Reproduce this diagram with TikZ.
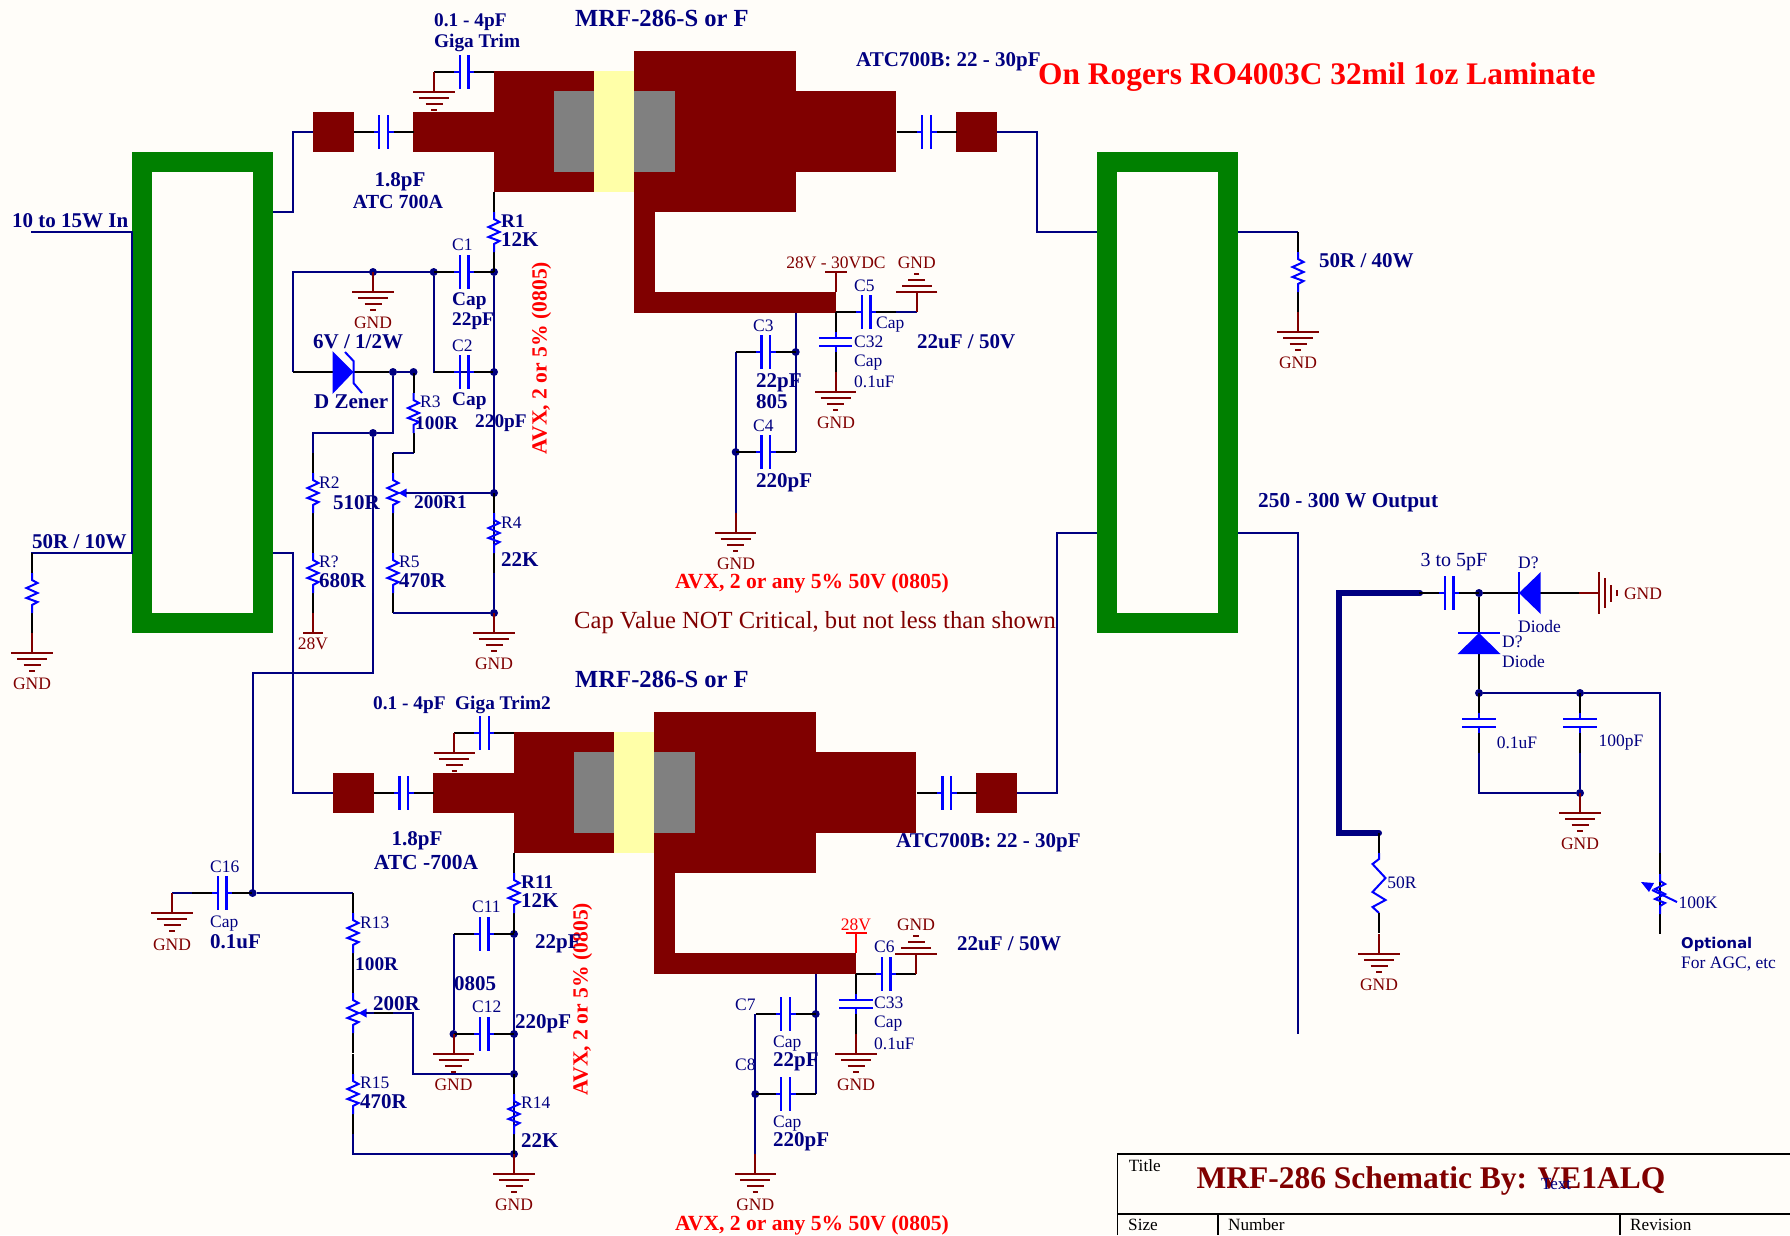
\documentclass[tikz,border=0pt]{standalone}
\usepackage{fontspec}
\setmainfont{Liberation Serif}
\newfontfamily\optfont{DejaVu Sans}
\definecolor{navyw}{RGB}{0,0,128}
\definecolor{compb}{RGB}{0,0,255}
\definecolor{dred}{RGB}{128,0,0}
\definecolor{pgreen}{RGB}{0,128,0}
\definecolor{pgray}{RGB}{128,128,128}
\definecolor{pyell}{RGB}{255,255,168}
\definecolor{bgc}{RGB}{255,253,249}
\definecolor{tred}{RGB}{255,0,0}
\newcount\lbln
\newcommand\fsz[1]{\fontsize{#1}{#1}\selectfont}
\tikzset{
  wire/.style={draw=navyw,line width=2pt,line join=miter},
  lead/.style={draw=black,line width=2pt},
  comp/.style={draw=compb,line width=2pt,line join=miter},
  plate/.style={draw=compb,line width=2.4pt},
  gline/.style={draw=dred,line width=2pt},
  junct/.style={circle,fill=navyw,inner sep=0pt,minimum size=8pt,outer sep=0pt},
  block/.style={rectangle,inner sep=0pt,outer sep=0pt,draw=none},
  sbox/.style={rectangle,draw=pgreen,line width=20pt,inner sep=0pt,outer sep=0pt,minimum width=121pt,minimum height=461pt},
  bl/.style={font=\bfseries\fsz{21},text=navyw,inner sep=0pt,anchor=west,yshift=-1.5pt},
  bs/.style={font=\bfseries\fsz{19.3},text=navyw,inner sep=0pt,anchor=west,yshift=-1.5pt},
  nl/.style={font=\fsz{17.5},text=navyw,inner sep=0pt,anchor=west,yshift=-0.4pt},
  gd/.style={font=\fsz{17.5},text=dred,inner sep=0pt,anchor=center,yshift=-0.4pt},
  rb/.style={font=\bfseries\fsz{21.6},text=tred,inner sep=0pt,anchor=center,yshift=-2pt},
  tt/.style={font=\fsz{17.2},text=black,inner sep=0pt,anchor=west,yshift=-0.4pt},
}
% text node, auto-named
\newcommand\T[4]{\global\advance\lbln by 1 \node[#3] (t\the\lbln) at (#1,#2) {#4};}
% block from corners
\newcommand\blk[6]{%
  \pgfmathsetmacro\bw{#4-#2}\pgfmathsetmacro\bh{#5-#3}%
  \pgfmathsetmacro\bx{(#4+#2)/2}\pgfmathsetmacro\by{(#5+#3)/2}%
  \node[block,fill=#6,minimum width=\bw pt,minimum height=\bh pt] (#1) at (\bx,\by) {};}
\newcommand\J[3]{\node[junct] (#1) at (#2,#3) {};}
% horizontal capacitor
\newcommand\capH[2]{\begin{scope}[shift={(#1,#2)}]
  \draw[lead] (-30,0)--(-4.3,0); \draw[lead] (4.3,0)--(30,0);
  \draw[comp] (-10,0)--(-4.3,0); \draw[comp] (4.3,0)--(10,0);
  \draw[plate] (-4.3,-16.7)--(-4.3,16.7); \draw[plate] (4.3,-16.7)--(4.3,16.7);
\end{scope}}
% vertical capacitor
\newcommand\capV[2]{\begin{scope}[shift={(#1,#2)}]
  \draw[lead] (0,-30)--(0,-4); \draw[lead] (0,4)--(0,30);
  \draw[comp] (0,-10)--(0,-4); \draw[comp] (0,4)--(0,10);
  \draw[plate] (-16.7,-4)--(16.7,-4); \draw[plate] (-16.7,4)--(16.7,4);
\end{scope}}
\newcommand\zig{(0,-20)--(0,-13)--(5.5,-10)--(-5.5,-5)--(5.5,0)--(-5.5,5)--(5.5,9)--(0,12)--(0,20)}
\newcommand\Res[2]{\begin{scope}[shift={(#1,#2)}]
  \draw[lead] (0,-40)--(0,-20); \draw[lead] (0,20)--(0,40);
  \draw[comp] \zig;
\end{scope}}
\newcommand\Pot[2]{\begin{scope}[shift={(#1,#2)}]
  \draw[lead] (0,-40)--(0,-20); \draw[lead] (0,20)--(0,40);
  \draw[comp] \zig;
  \fill[compb] (5.5,0)--(13.5,-4.5)--(13.5,4.5)--cycle;
\end{scope}}
% ground: stub of 20 then four bars
\newcommand\Gnd[3]{\begin{scope}[shift={(#1,#2)},rotate=#3]
  \draw[gline] (0,-20)--(0,0);
  \draw[gline] (-20.7,0)--(20.7,0);
  \draw[gline] (-15,6)--(15,6);
  \draw[gline] (-8.5,12)--(8.5,12);
  \draw[gline] (-2.7,18)--(2.7,18);
\end{scope}}
% transistor stage
\newcommand\Stage[3]{\begin{scope}[shift={(#2,#3)}]
  \blk{#1pad}{312.5}{112}{353.5}{152}{dred}
  \blk{#1gate}{413}{112}{494}{152}{dred}
  \blk{#1body}{494}{71}{594}{192}{dred}
  \blk{#1big}{634}{51}{796}{212}{dred}
  \blk{#1drain}{796}{91}{896}{172}{dred}
  \blk{#1pado}{956}{112}{997}{152}{dred}
  \blk{#1sa}{634}{212}{655}{292}{dred}
  \blk{#1sb}{634}{292}{836}{313}{dred}
  \blk{#1yel}{594}{71}{634}{192}{pyell}
  \blk{#1gl}{554}{91}{594}{172}{pgray}
  \blk{#1gr}{634}{91}{675}{172}{pgray}
  \capH{383.5}{132}
  \capH{926.5}{132}
  \capH{464}{72}
  \Gnd{434}{92}{0}
\end{scope}}
\begin{document}
\begin{tikzpicture}[x=1pt,y=-1pt]
\path[use as bounding box] (0,0) rectangle (1790,1235);
\fill[bgc] (0,0) rectangle (1790,1235);

% splitter boxes
\node[sbox] (lbox) at (202.4,392.5) {};
\node[sbox] (rbox) at (1167.5,392.5) {};

% stages
\Stage{a}{0}{0}
\Stage{b}{20.4}{661}

% named points
\coordinate (inA) at (31,232);
\coordinate (lboxA) at (132,232);
\coordinate (lboxB) at (132,553);
\coordinate (termW) at (32,553);
\coordinate (lboxC) at (273,212);
\coordinate (lboxD) at (273,553);
\coordinate (up1) at (292.6,132);
\coordinate (up2) at (292.6,793);
\coordinate (rboxA) at (1097,232);
\coordinate (rboxB) at (1097,533);
\coordinate (rboxC) at (1238,232);
\coordinate (rboxD) at (1238,533);
\coordinate (t40) at (1298,232);
\coordinate (tout) at (1298,533);
\coordinate (toutE) at (1298,1034);

\draw[wire] (inA)--(lboxA)--(lboxB)--(termW)--(32,573);
\Res{32}{593}
\Gnd{32}{653}{0}
\draw[wire] (lboxC)-|(up1)--(apad.west);
\draw[wire] (lboxD)-|(up2)--(bpad.west);
\draw[wire] (apado.east)-|(1037,232)--(rboxA);
\draw[wire] (bpado.east)-|(1057.4,533)--(rboxB);
\draw[wire] (rboxC)--(t40);
\Res{1298}{272}
\Gnd{1298}{332}{0}
\draw[wire] (rboxD)--(tout)--(toutE);

% upper bias network
\J{n1}{494}{272}\J{n2}{494}{372}\J{n3}{494}{493}\J{n4}{494}{613}
\J{n5}{373}{272}\J{n6}{433.7}{272}\J{n7}{393}{372}\J{n8}{413.5}{372}\J{n9}{373}{433}
\coordinate (zl) at (293,272);
\coordinate (zk) at (293,372);
\draw[wire] (n6)--(zl)--(zk);
\draw[lead] (zk)--(n7);
\draw[wire] (n7)--(n8);
\draw[wire] (n6)|-(n2);
\capH{464}{272}
\capH{464}{372}
\draw[wire] (n1)--(n4);
\Res{494}{232}
\Res{494}{533}
\Gnd{373}{292}{0}
% zener
\fill[compb] (332.5,351)--(353.5,372)--(332.5,394)--cycle;
\draw[comp] (345,352)--(353.5,361)--(353.5,383)--(362,393);
% R3, pot, R5
\draw[wire] (393,453)--(413.5,453);
\Res{413.5}{413}
\Pot{393}{493}
\Res{393}{573}
\draw[wire] (n3)--(406,493);
\draw[wire] (393,613)--(n4);
\Gnd{494}{633}{0}
% R2 chain
\draw[wire] (n7)|-(n9);
\draw[wire] (n9)-|(313,453);
\Res{313}{493}
\Res{313}{573}
\draw[gline] (313,613)--(313,633); \draw[gline] (303,633)--(323,633);
\draw[wire] (n9)|-(252.6,673)--(252.6,893);

% upper supply
\draw[gline] (835.7,292)--(835.7,272); \draw[gline] (825,272)--(846.5,272);
\capH{866}{312}
\draw[wire] (896,312)--(916.7,312);
\Gnd{916.7}{292}{180}
\capV{835.7}{342}
\Gnd{835.7}{392}{0}
\J{n10}{795.7}{352}\J{n11}{735.7}{452}
\coordinate (c3l) at (735.7,352);
\coordinate (c4r) at (795.7,452);
\draw[wire] (795.7,313)--(c4r);
\draw[wire] (c3l)--(735.7,513);
\capH{765.7}{352}
\capH{765.7}{452}
\Gnd{735.7}{533}{0}

% lower bias
\J{m1}{514}{934}\J{m2}{514}{1034}\J{m3}{514}{1074}\J{m4}{514}{1154}
\J{m5}{453.5}{1034}\J{m6}{252.6}{893}
\coordinate (m7) at (453.5,934);
\coordinate (m8) at (353,893);
\coordinate (m9) at (353,1154);
\coordinate (m10) at (413,1013);
\draw[wire] (m1)--(m4);
\draw[wire] (m7)--(m5);
\capH{484}{934}
\capH{484}{1034}
\Res{514}{893}
\Res{514}{1114}
\Gnd{453.5}{1054}{0}
\Gnd{514}{1174}{0}
\capH{222}{893}
\draw[wire] (172,893)--(192,893);
\Gnd{172}{913}{0}
\draw[wire] (m6)--(m8);
\draw[wire] (353,1134)--(m9)--(m4);
\Res{353}{933}
\Pot{353}{1013}
\Res{353}{1094}
\draw[wire] (366,1013)--(m10)--(413,1074)--(m3);
\draw[lead] (374,1013)--(393,1013);

% lower supply
\draw[draw=tred,line width=2pt] (856,953)--(856,933); \draw[draw=tred,line width=2pt] (845.5,933)--(867,933);
\capH{886}{974}
\Gnd{916}{954}{180}
\capV{856}{1004}
\Gnd{856}{1054}{0}
\J{m11}{815.7}{1014}\J{m12}{755.3}{1094}
\coordinate (c7l) at (755.3,1014);
\coordinate (c8r) at (815.7,1094);
\draw[wire] (815.7,974)--(c8r);
\draw[wire] (c7l)--(755.3,1154);
\capH{785.5}{1014}
\capH{785.5}{1094}
\Gnd{755.3}{1174}{0}

% detector circuit
\J{d1}{1479}{593}\J{d2}{1479}{693}\J{d3}{1580}{693}\J{d4}{1580}{793}
\coordinate (th1) at (1420,593);
\coordinate (th2) at (1338.5,593);
\coordinate (th3) at (1338.5,833);
\coordinate (th4) at (1379,833);
\draw[draw=navyw,line width=6pt,line join=miter] (th1)--(th2)--(th3)--(th4);
\fill[navyw] (th1) circle (3pt) (th4) circle (3pt);
\capH{1449}{593}
\draw[lead] (d1)--(1579,593);
\fill[compb] (1519,593)--(1540.7,572)--(1540.7,614)--cycle;
\draw[comp] (1519,572)--(1519,614);
\Gnd{1599.3}{593}{90}
\draw[lead] (d1)--(d2);
\fill[compb] (1479,633)--(1457.5,654)--(1500.5,654)--cycle;
\draw[comp] (1458,633)--(1500,633);
\draw[wire] (d2)--(d3)-|(1660,853);
\draw[wire] (1479,753)|-(d4);
\capV{1479}{723}
\capV{1580}{723}
\draw[wire] (1580,753)--(d4);
\Gnd{1580}{813}{0}
\draw[lead] (1379,833)--(1379,853);
\begin{scope}[shift={(1379,883)}]
\draw[comp] (0,-30)--(0,-24)--(-6.5,-19)--(6.5,-5)--(-6.5,9)--(6.5,17)--(-6.5,24)--(0,30);
\draw[lead] (0,30)--(0,50);
\end{scope}
\Gnd{1379}{954}{0}
\draw[lead] (1660,853)--(1660,934);
\begin{scope}[shift={(1660,894)}]
\draw[comp] (0,-20)--(0,-13)--(5,-10)--(-5,-5)--(5,0)--(-5,5)--(5,9)--(0,12)--(0,20);
\draw[comp] (-8,-4)--(17,8);
\fill[compb] (-19,-12)--(-6,-11)--(-11,-2)--cycle;
\end{scope}

% title block
\coordinate (tb1) at (1117.6,1235);
\coordinate (tb2) at (1117.6,1154);
\coordinate (tb3) at (1790,1154);
\coordinate (tb4) at (1117.6,1214);
\coordinate (tb5) at (1790,1214);
\draw[black,line width=1.2pt] (tb1)--(tb2)--(tb3);
\draw[black,line width=1.2pt] (tb4)--(tb5);
\draw[black,line width=1.2pt] (1218,1214)--(1218,1235);
\draw[black,line width=1.2pt] (1620,1214)--(1620,1235);

% ---------- texts ----------
\T{662}{18}{font=\bfseries\fsz{24.6},text=navyw,inner sep=0pt}{MRF-286-S or F}
\T{662}{679}{font=\bfseries\fsz{24.6},text=navyw,inner sep=0pt}{MRF-286-S or F}
\T{434}{21}{bs}{0.1 - 4pF}
\T{434}{41}{bs}{Giga Trim}
\T{373}{703}{bs}{0.1 - 4pF~~Giga Trim2}
\T{856}{60}{bl}{ATC700B: 22 - 30pF}
\T{896}{841}{bl}{ATC700B: 22 - 30pF}
\T{1038}{77.5}{font=\bfseries\fsz{31.4},text=tred,inner sep=0pt,anchor=west}{On Rogers RO4003C 32mil 1oz Laminate}
\T{400}{181.5}{font=\bfseries\fsz{21},text=navyw,inner sep=0pt}{1.8pF}
\T{398}{202}{font=\bfseries\fsz{20},text=navyw,inner sep=0pt}{ATC 700A}
\T{417}{840.5}{font=\bfseries\fsz{21},text=navyw,inner sep=0pt}{1.8pF}
\T{426}{862}{font=\bfseries\fsz{21.5},text=navyw,inner sep=0pt}{ATC -700A}
\T{12}{219}{bl}{10 to 15W In}
\T{32}{540}{bl}{50R / 10W}
\T{1319}{259}{bl}{50R / 40W}
\T{1258}{502.5}{font=\bfseries\fsz{21.3},text=navyw,inner sep=0pt,anchor=west}{250 - 300 W Output}
\T{32}{683}{gd}{GND}
\T{1298}{362}{gd}{GND}
% upper bias
\T{501}{220}{bs}{R1}
\T{501}{238}{bl}{12K}
\T{452}{244}{nl}{C1}
\T{452}{300}{bs}{Cap}
\T{452}{320}{bs}{22pF}
\T{452}{345}{nl}{C2}
\T{452}{400}{bs}{Cap}
\T{475}{422}{bs}{220pF}
\T{415}{422}{bs}{100R}
\T{420}{401}{nl}{R3}
\T{313}{340}{bl}{6V / 1/2W}
\T{314}{400}{bl}{D Zener}
\T{373}{322}{gd}{GND}
\T{319}{482}{nl}{R2}
\T{333}{501}{bl}{510R}
\T{319}{561}{nl}{R?}
\T{319}{579}{bl}{680R}
\T{399}{561}{nl}{R5}
\T{399}{579}{bl}{470R}
\T{414}{501}{bs}{200R1}
\T{501}{522}{nl}{R4}
\T{501}{558}{bl}{22K}
\T{494}{663}{gd}{GND}
\T{313}{643}{gd}{28V}
\T{541.5}{356}{rb,rotate=90}{AVX, 2 or 5\% (0805)}
\T{582.5}{997}{rb,rotate=90}{AVX, 2 or 5\% (0805)}
\T{574}{622.5}{font=\fsz{24.6},text=dred,inner sep=0pt,anchor=west}{Cap Value NOT Critical, but not less than shown}
\T{812}{581}{rb}{AVX, 2 or any 5\% 50V (0805)}
\T{812}{1223}{rb}{AVX, 2 or any 5\% 50V (0805)}
% upper supply
\T{836}{262}{gd}{28V - 30VDC}
\T{916.7}{262}{gd}{GND}
\T{854}{285}{nl}{C5}
\T{876}{324}{nl}{Cap}
\T{917}{340}{bl}{22uF / 50V}
\T{854}{341}{nl}{C32}
\T{854}{362}{nl}{Cap}
\T{854}{381}{nl}{0.1uF}
\T{836}{422}{gd}{GND}
\T{753}{325}{nl}{C3}
\T{756}{381}{bl}{22pF}
\T{756}{400}{bl}{805}
\T{753}{425}{nl}{C4}
\T{756}{481}{bl}{220pF}
\T{736}{563}{gd}{GND}
% lower bias
\T{210}{866}{nl}{C16}
\T{210}{923}{nl}{Cap}
\T{210}{940}{bl}{0.1uF}
\T{172}{944}{gd}{GND}
\T{360}{922}{nl}{R13}
\T{355}{963}{bs}{100R}
\T{373}{1002}{bl}{200R}
\T{360}{1082}{nl}{R15}
\T{360}{1100}{bl}{470R}
\T{521}{881}{bs}{R11}
\T{521}{899}{bl}{12K}
\T{472}{906}{nl}{C11}
\T{535}{942}{bl}{22pF}
\T{454}{982}{bl}{0805}
\T{472}{1006}{nl}{C12}
\T{515}{1022}{bl}{220pF}
\T{521}{1102}{nl}{R14}
\T{521}{1139}{bl}{22K}
\T{453.5}{1084}{gd}{GND}
\T{514}{1204}{gd}{GND}
% lower supply
\T{856}{924.4}{font=\fsz{17.5},text=tred,inner sep=0pt}{28V}
\T{916}{924}{gd}{GND}
\T{874}{946}{nl}{C6}
\T{957}{942}{bl}{22uF / 50W}
\T{874}{1002}{nl}{C33}
\T{874}{1023}{nl}{Cap}
\T{874}{1043}{nl}{0.1uF}
\T{856}{1084}{gd}{GND}
\T{735}{1004}{nl}{C7}
\T{735}{1064}{nl}{C8}
\T{773}{1043}{nl}{Cap}
\T{773}{1060}{bl}{22pF}
\T{773}{1123}{nl}{Cap}
\T{773}{1140}{bl}{220pF}
\T{755.3}{1204}{gd}{GND}
% detector
\T{1454}{562.4}{font=\fsz{20},text=navyw,inner sep=0pt}{3 to 5pF}
\T{1518}{562}{nl}{D?}
\T{1518}{626}{nl}{Diode}
\T{1502}{641}{nl}{D?}
\T{1502}{661}{nl}{Diode}
\T{1643}{593}{gd}{GND}
\T{1517}{742.4}{font=\fsz{17.5},text=navyw,inner sep=0pt}{0.1uF}
\T{1621}{742.4}{font=\fsz{17.5},text=navyw,inner sep=0pt}{100pF}
\T{1580}{843}{gd}{GND}
\T{1402}{882.4}{font=\fsz{17.5},text=navyw,inner sep=0pt}{50R}
\T{1379}{984}{gd}{GND}
\T{1698}{902.4}{font=\fsz{17.5},text=navyw,inner sep=0pt}{100K}
\T{1681}{944}{font=\optfont\bfseries\fsz{14.8},text=navyw,inner sep=0pt,anchor=west}{Optional}
\T{1681}{964}{nl}{For AGC, etc}
% title block text
\T{1128.6}{1165}{tt}{Title}
\T{1431}{1181}{font=\bfseries\fsz{31.5},text=dred,inner sep=0pt}{MRF-286 Schematic By: VE1ALQ}
\T{1556}{1184.4}{font=\fsz{17},text=navyw,inner sep=0pt}{Text}
\T{1128}{1224}{tt}{Size}
\T{1228}{1224}{tt}{Number}
\T{1630}{1224}{tt}{Revision}
\end{tikzpicture}
\end{document}
